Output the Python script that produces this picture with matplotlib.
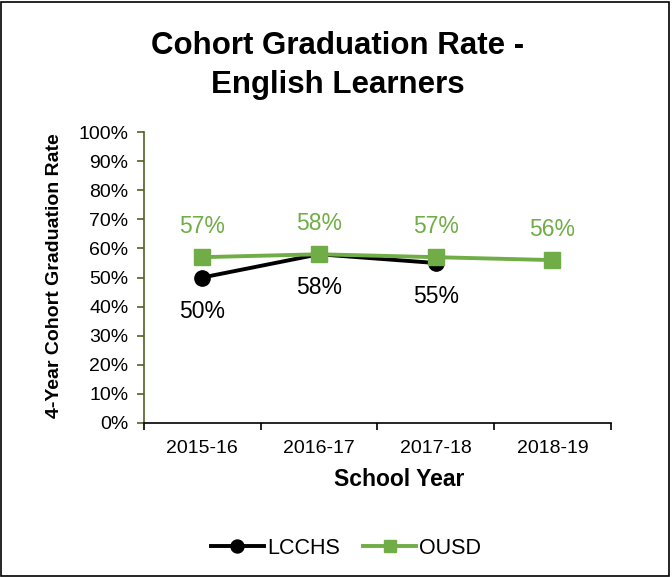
import numpy as np
import matplotlib.pyplot as plt
from matplotlib.patches import Rectangle

plt.rcParams['font.family'] = ['Liberation Sans', 'DejaVu Sans']

# data
years = ['2015-16', '2016-17', '2017-18', '2018-19']
lcchs = [50, 58, 55, np.nan]
ousd = [57, 58, 57, 56]

green = '#70AD47'
axis_green = '#4F6228'

fig = plt.figure(figsize=(6.72, 5.77), dpi=100)
ax = fig.add_axes([0.214, 0.267, 0.695, 0.504])

x = np.arange(len(years))
ax.plot(x, lcchs, color='black', lw=2.8, marker='o', ms=11, label='LCCHS', zorder=3)
ax.plot(x, ousd, color=green, lw=2.8, marker='s', ms=11, label='OUSD', zorder=4)

# data labels
for xi, v in zip(x, lcchs):
    if not np.isnan(v):
        ax.annotate(f'{v:.0f}%', (xi, v), xytext=(0, -16), textcoords='offset points',
                    ha='center', va='top', fontsize=16.5, color='black')
for xi, v in zip(x, ousd):
    ax.annotate(f'{v:.0f}%', (xi, v), xytext=(0, 14), textcoords='offset points',
                ha='center', va='bottom', fontsize=16.5, color=green)

ax.set_xlim(-0.5, len(years) - 0.5)
ax.set_ylim(0, 100)
ax.set_yticks(np.arange(0, 101, 10))
ax.set_yticklabels([f'{t}%' for t in range(0, 101, 10)])
ax.set_xticks(np.arange(-0.5, len(years), 1), minor=False)
ax.set_xticklabels([])
ax.set_xticks(x, minor=True)
ax.set_xticklabels(years, minor=True)
ax.tick_params(axis='x', which='minor', length=0, pad=12, labelsize=14)
ax.tick_params(axis='x', which='major', length=5, width=1.2, color='black')
ax.tick_params(axis='y', length=5, width=1.2, color=axis_green, labelsize=14, pad=6)

for s in ['top', 'right']:
    ax.spines[s].set_visible(False)
ax.spines['left'].set_color(axis_green)
ax.spines['left'].set_linewidth(1.2)
ax.spines['bottom'].set_color('black')
ax.spines['bottom'].set_linewidth(1.2)

ax.set_xlabel('School Year', fontsize=16.5, fontweight='bold')
ax.xaxis.set_label_coords(0.546, -0.155)
ax.set_ylabel('4-Year Cohort Graduation Rate', fontsize=14, fontweight='bold')
ax.yaxis.set_label_coords(-0.172, 0.505)

fig.text(0.502, 0.886, 'Cohort Graduation Rate -\nEnglish Learners', ha='center', va='center',
         fontsize=22.5, fontweight='bold', linespacing=1.38)

leg = ax.legend(loc='center', bbox_to_anchor=(0.515, 0.05), bbox_transform=fig.transFigure,
                ncol=2, frameon=False, fontsize=15.5, handlelength=2.45, columnspacing=1.1,
                handletextpad=0.15, markerscale=0.85)

fig.add_artist(Rectangle((0.002, 0.002), 0.993, 0.995, transform=fig.transFigure,
                         fill=False, edgecolor='black', lw=1.2))

fig.savefig('out.png', dpi=100)
